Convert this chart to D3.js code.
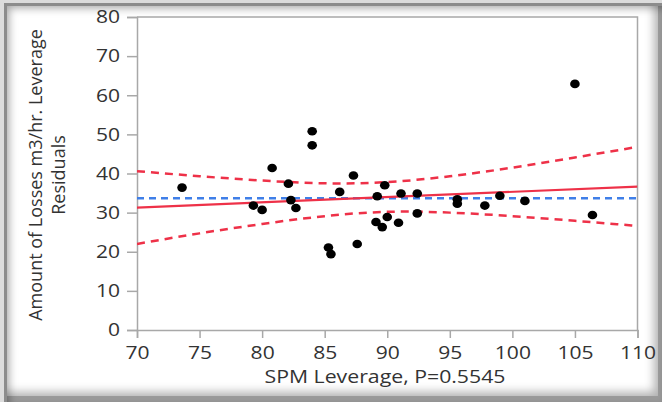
<!DOCTYPE html>
<html>
<head>
<meta charset="utf-8">
<script src="https://cdn.jsdelivr.net/npm/d3@7"></script>
<style>
  html, body { margin: 0; padding: 0; background: #dcdcdc; }
  #wrap { position: relative; width: 662px; height: 402px; overflow: hidden; }
  #frame {
    position: absolute; left: 4px; top: 3px; width: 658px; height: 399px;
    background: #fff;
    box-shadow: inset 3px 3px 0 #8c8c8c, inset 5px 5px 9px rgba(0,0,0,0.35),
                inset -4px -6px 0 #9a9a9a, inset -8px -10px 10px rgba(0,0,0,0.3);
  }
  svg { position: absolute; left: 0; top: 0; }
  text { font-family: "Open Sans", "Noto Sans", sans-serif; fill: #333; }
</style>
</head>
<body>
<div id="wrap"><div id="frame"></div></div>
<script>
// SPM leverage plot: residual points, fitted line, confidence curves and mean line
const spmX = [73.6, 79.3, 80.0, 80.8, 82.1, 82.3, 82.7, 84.0, 84.0, 85.3,
              85.5, 86.2, 87.3, 87.6, 89.2, 89.1, 89.6, 89.8, 90.0, 90.9,
              91.1, 92.4, 92.4, 95.6, 95.6, 97.8, 99.0, 101.0, 105.0, 106.4];
const lossY = [36.4, 31.8, 30.7, 41.4, 37.4, 33.2, 31.2, 50.8, 47.2, 21.1,
               19.4, 35.3, 39.5, 22.0, 34.2, 27.6, 26.3, 37.0, 28.9, 27.4,
               34.9, 34.9, 29.8, 33.4, 32.3, 31.8, 34.3, 33.0, 62.9, 29.4];

// fitted line end points
const fitX = [70, 110];
const fitY = [31.3, 36.65];

// confidence curve readings
const bandX = [70, 75, 80, 85, 90, 95, 100, 105, 110];
const bandUpper = [40.6, 39.3, 38.2, 37.5, 37.8, 39.3, 41.5, 44.1, 46.8];
const bandLower = [22.0, 24.7, 27.1, 29.1, 30.2, 30.0, 29.1, 27.9, 26.6];

// mean of the response
const meanY = 33.7;

const xTicks = [70, 75, 80, 85, 90, 95, 100, 105, 110];
const yTicks = [0, 10, 20, 30, 40, 50, 60, 70, 80];

const xTitle = "SPM Leverage, P=0.5545";
const yTitleLines = ["Amount of Losses m3/hr. Leverage", "Residuals"];

const W = 662, H = 402;
const plot = { left: 137, top: 17, right: 637.5, bottom: 330 };
const wide = 1.17;   // horizontal widening of the label glyphs

const svg = d3.select("#wrap").append("svg").attr("width", W).attr("height", H);

const x = d3.scaleLinear().domain([70, 110]).range([plot.left, plot.right]);
const y = d3.scaleLinear().domain([0, 80]).range([plot.bottom, plot.top]);

const axisColor = "#a8a8a8";

// plot frame (top and right)
svg.append("path")
  .attr("d", `M${plot.left},${plot.top}H${plot.right}V${plot.bottom}`)
  .attr("fill", "none").attr("stroke", axisColor).attr("stroke-width", 1.5);

// axes
const xAxis = svg.append("g").attr("transform", `translate(0,${plot.bottom})`)
  .call(d3.axisBottom(x).tickValues(xTicks).tickSize(8).tickPadding(8).tickFormat(d3.format("d")));
const yAxis = svg.append("g").attr("transform", `translate(${plot.left},0)`)
  .call(d3.axisLeft(y).tickValues(yTicks).tickSize(10).tickPadding(5).tickFormat(d3.format("d")));

[xAxis, yAxis].forEach(g => {
  g.select(".domain").attr("stroke", axisColor).attr("stroke-width", 1.5);
  g.selectAll(".tick line").attr("stroke", axisColor).attr("stroke-width", 1.5);
  g.selectAll(".tick text").attr("fill", "#333")
    .style("font-family", '"Open Sans", sans-serif').style("font-size", "18px")
    .attr("transform", `scale(${wide},1)`);
});
// keep the right edge of the y labels at the same place after widening
yAxis.selectAll(".tick text").attr("x", -17 / wide);

svg.append("clipPath").attr("id", "plotClip")
  .append("rect").attr("x", plot.left).attr("y", plot.top)
  .attr("width", plot.right - plot.left).attr("height", plot.bottom - plot.top);

const layer = svg.append("g").attr("clip-path", "url(#plotClip)");

const red = "#ee3148";
const blue = "#3f7fe8";

// mean line
layer.append("line")
  .attr("x1", x(70)).attr("x2", x(110)).attr("y1", y(meanY)).attr("y2", y(meanY))
  .attr("stroke", blue).attr("stroke-width", 2.5).attr("stroke-dasharray", "7,5");

// confidence curves
const bandLine = d3.line().curve(d3.curveNatural);
[bandUpper, bandLower].forEach(vals => {
  layer.append("path")
    .attr("d", bandLine(bandX.map((v, i) => [x(v), y(vals[i])])))
    .attr("fill", "none").attr("stroke", red).attr("stroke-width", 2.5)
    .attr("stroke-dasharray", "8,6");
});

// fitted line
layer.append("path")
  .attr("d", d3.line()(fitX.map((v, i) => [x(v), y(fitY[i])])))
  .attr("fill", "none").attr("stroke", red).attr("stroke-width", 2.2);

// points
layer.selectAll("ellipse.pt").data(spmX.map((v, i) => [v, lossY[i]]))
  .join("ellipse").attr("class", "pt")
  .attr("cx", d => x(d[0])).attr("cy", d => y(d[1]))
  .attr("rx", 4.8).attr("ry", 4.3).attr("fill", "#000");

// axis titles
svg.append("text")
  .attr("transform", `translate(385,383) scale(1.15,1)`)
  .attr("text-anchor", "middle").style("font-size", "18.5px")
  .text(xTitle);

const yt = svg.append("text")
  .attr("transform", "translate(42,175) rotate(-90)")
  .attr("text-anchor", "middle").style("font-size", "18px");
yTitleLines.forEach((t, i) => {
  yt.append("tspan").attr("x", 0).attr("dy", i === 0 ? 0 : 23).text(t);
});
</script>
</body>
</html>
